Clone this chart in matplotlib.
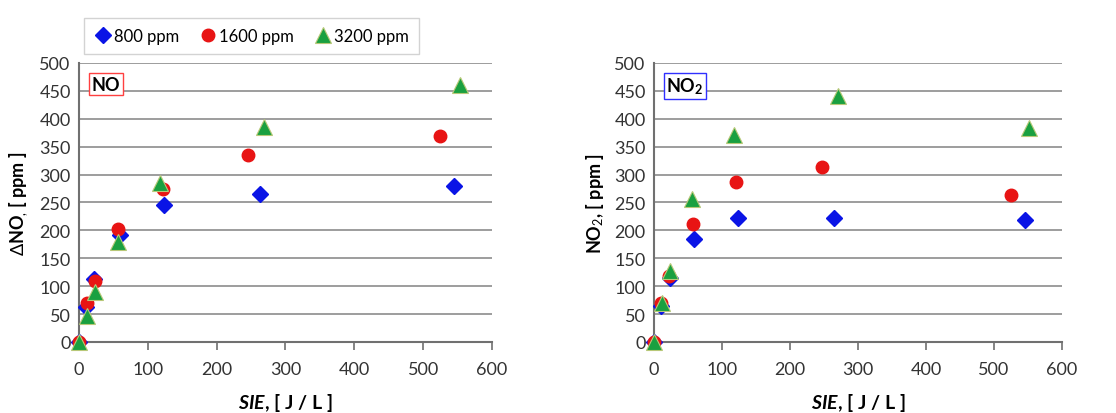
import matplotlib
matplotlib.use("Agg")
import matplotlib.pyplot as plt

plt.rcParams['font.family'] = ['Lato', 'DejaVu Sans']
plt.rcParams['mathtext.fontset'] = 'custom'
plt.rcParams['mathtext.rm'] = 'Lato'
plt.rcParams['mathtext.bf'] = 'Lato:bold'
plt.rcParams['mathtext.it'] = 'Lato:italic'
plt.rcParams['mathtext.bfit'] = 'Lato:italic:bold'

labels = ["800 ppm", "1600 ppm", "3200 ppm"]

# NO panel
no_x_800 = [0, 10, 22, 60, 123, 263, 545]
no_y_800 = [0, 62, 112, 192, 245, 266, 280]
no_x_1600 = [0, 11, 23, 56, 122, 245, 525]
no_y_1600 = [0, 70, 110, 203, 275, 335, 370]
no_x_3200 = [0, 11, 23, 57, 117, 269, 553]
no_y_3200 = [0, 47, 90, 180, 285, 385, 460]

# NO2 panel
no2_x_800 = [0, 11, 23, 59, 124, 264, 546]
no2_y_800 = [0, 65, 115, 184, 222, 222, 218]
no2_x_1600 = [0, 11, 22, 57, 121, 247, 525]
no2_y_1600 = [0, 70, 118, 211, 287, 313, 263]
no2_x_3200 = [0, 12, 23, 56, 118, 270, 552]
no2_y_3200 = [0, 70, 128, 256, 371, 441, 384]

styles = [
    dict(marker="D", color="#0a14e6", ms=8, mec="#0a14e6"),
    dict(marker="o", color="#e81414", ms=9, mec="#e81414"),
    dict(marker="^", color="#1aa040", ms=11, mec="#b8c878", mew=0.8),
]

fig = plt.figure(figsize=(11.16, 4.14), dpi=100)
ax1 = fig.add_axes([0.0708, 0.1715, 0.370, 0.674])
ax2 = fig.add_axes([0.586, 0.1715, 0.3656, 0.674])

panels = [
    (ax1, [(no_x_800, no_y_800), (no_x_1600, no_y_1600), (no_x_3200, no_y_3200)],
     r"$\Delta$NO$_{,}$ [ ppm ]", "NO", "#ff4040"),
    (ax2, [(no2_x_800, no2_y_800), (no2_x_1600, no2_y_1600), (no2_x_3200, no2_y_3200)],
     r"NO$_{2}$, [ ppm ]", r"NO$_\mathregular{2}$", "#3030ff"),
]

handles = None
for ax, series, ylab, tag, tagcol in panels:
    hs = []
    for (xs, ys), st, lab in zip(series, styles, labels):
        h, = ax.plot(xs, ys, ls="none", label=lab, clip_on=False, zorder=3, **st)
        hs.append(h)
    if handles is None:
        handles = hs
    ax.set_xlim(0, 600)
    ax.set_ylim(0, 500)
    ax.set_xticks(range(0, 601, 100))
    ax.set_yticks(range(0, 501, 50))
    ax.grid(axis="y", color="#8c8c8c", lw=1.2)
    ax.set_axisbelow(True)
    for s in ["top", "right"]:
        ax.spines[s].set_visible(False)
    for s in ["left", "bottom"]:
        ax.spines[s].set_color("#707070")
        ax.spines[s].set_linewidth(1.5)
    ax.tick_params(axis="x", direction="out", length=6, width=1.2, color="#707070",
                   labelsize=13, labelcolor="#333333", pad=8)
    ax.tick_params(axis="y", length=0, labelsize=13, labelcolor="#333333", pad=6)
    ax.set_xlabel(r"$\mathbfit{SIE}$, [ J / L ]", fontsize=14, fontweight="bold", labelpad=10)
    ax.set_ylabel(ylab, fontsize=13, fontweight="bold", labelpad=6)
    ax.text(0.03, 0.955, tag, transform=ax.transAxes, fontsize=13, fontweight="bold",
            va="top", ha="left",
            bbox=dict(boxstyle="square,pad=0.15", fc="white", ec=tagcol, lw=1))

fig.legend(handles=handles, labels=labels, loc="upper left",
           bbox_to_anchor=(0.068, 0.975), ncol=3, fontsize=12, frameon=True,
           fancybox=False, edgecolor="#c8c8c8", handletextpad=0.2,
           columnspacing=1.2, borderpad=0.6, handlelength=1.0)

fig.savefig("out.png", dpi=100)
